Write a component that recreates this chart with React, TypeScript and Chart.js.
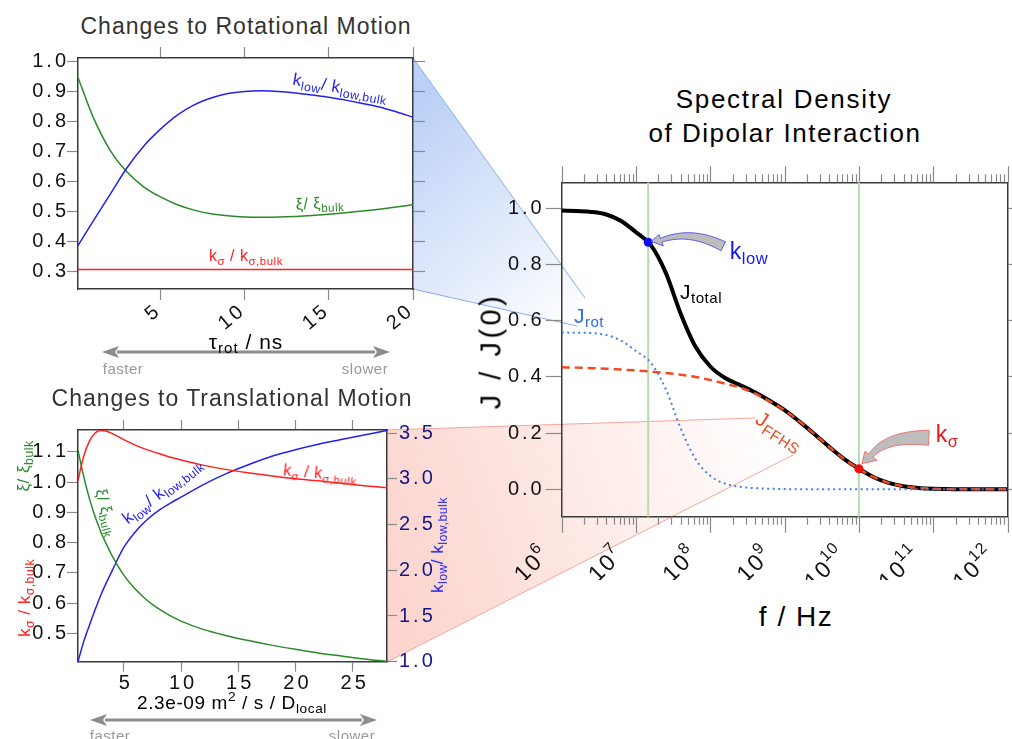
import React, { useEffect, useRef } from 'react';
import { Chart, registerables } from 'chart.js';

Chart.register(...registerables);

const FONT = "'Liberation Sans', Arial, Helvetica, sans-serif";
Chart.defaults.font.family = FONT;

// ---------------- Changes to Rotational Motion ----------------
const rotTau = [0.1, 1, 2, 3, 4, 5, 6, 7, 8, 9, 10, 11, 12, 13, 14, 15, 16, 17, 18, 19, 20];
const rotKlow = [0.385, 0.467, 0.556, 0.645, 0.718, 0.775, 0.822, 0.856, 0.879, 0.894, 0.901, 0.903, 0.901, 0.896, 0.889, 0.882, 0.872, 0.861, 0.849, 0.833, 0.815];
const rotXi = [0.948, 0.815, 0.705, 0.632, 0.582, 0.548, 0.522, 0.504, 0.492, 0.485, 0.481, 0.48, 0.481, 0.483, 0.486, 0.49, 0.495, 0.501, 0.507, 0.514, 0.522];
const rotKsigma = [0.305, 0.305, 0.305, 0.305, 0.305, 0.305, 0.305, 0.305, 0.305, 0.305, 0.305, 0.305, 0.305, 0.305, 0.305, 0.305, 0.305, 0.305, 0.305, 0.305, 0.305];
const rotXTicks = [5, 10, 15, 20];
const rotYTicks = [0.3, 0.4, 0.5, 0.6, 0.7, 0.8, 0.9, 1.0];

// ---------------- Changes to Translational Motion ----------------
const trX = [1, 1.5, 2, 2.5, 3, 3.5, 4, 5, 6, 7, 8, 9, 10, 12, 14, 16, 18, 20, 22, 24, 26, 28];
const trKsigma = [1.005, 1.085, 1.135, 1.162, 1.17, 1.168, 1.16, 1.14, 1.122, 1.107, 1.095, 1.083, 1.073, 1.055, 1.041, 1.03, 1.02, 1.011, 1.004, 0.996, 0.988, 0.981];
const trXi = [1.105, 1.018, 0.945, 0.885, 0.835, 0.793, 0.755, 0.692, 0.646, 0.61, 0.582, 0.559, 0.54, 0.512, 0.492, 0.475, 0.46, 0.447, 0.435, 0.425, 0.415, 0.407];
const trKlow = [1.0, 1.22, 1.4, 1.57, 1.73, 1.87, 2.0, 2.25, 2.42, 2.55, 2.65, 2.73, 2.8, 2.94, 3.06, 3.16, 3.25, 3.32, 3.38, 3.43, 3.48, 3.53];
const trXTicks = [5, 10, 15, 20, 25];
const trYTicks = [0.5, 0.6, 0.7, 0.8, 0.9, 1.0, 1.1];
const trY2Ticks = [1.0, 1.5, 2.0, 2.5, 3.0, 3.5];

// ---------------- Spectral density ----------------
const freqExp = [6.0, 6.2, 6.4, 6.6, 6.8, 7.0, 7.2, 7.4, 7.6, 7.8, 8.0, 8.2, 8.4, 8.6, 8.8, 9.0, 9.2, 9.4, 9.6, 9.8, 10.0, 10.2, 10.4, 10.6, 10.8, 11.0, 11.2, 11.4, 11.6, 11.8, 12.0];
const jRot = [0.558, 0.557, 0.556, 0.549, 0.529, 0.492, 0.45, 0.357, 0.218, 0.108, 0.048, 0.02, 0.009, 0.004, 0.002, 0.001, 0, 0, 0, 0, 0, 0, 0, 0, 0, 0, 0, 0, 0, 0, 0];
const jFfhs = [0.434, 0.433, 0.431, 0.429, 0.426, 0.423, 0.419, 0.414, 0.408, 0.4, 0.389, 0.376, 0.362, 0.341, 0.313, 0.281, 0.241, 0.197, 0.151, 0.108, 0.073, 0.043, 0.023, 0.011, 0.005, 0.002, 0.001, 0, 0, 0, 0];
const jTotal = [0.992, 0.99, 0.987, 0.978, 0.955, 0.915, 0.869, 0.771, 0.626, 0.508, 0.437, 0.396, 0.371, 0.345, 0.315, 0.282, 0.241, 0.197, 0.151, 0.108, 0.073, 0.043, 0.023, 0.011, 0.005, 0.002, 0.001, 0, 0, 0, 0];
const freqMajorExp = [6, 7, 8, 9, 10, 11, 12];
const jYTicks = [0.0, 0.2, 0.4, 0.6, 0.8, 1.0];
const kLowFreq = 1.46e7;
const kLowJ = 0.879;
const kSigmaFreq = 1e10;
const kSigmaJ = 0.073;

const pts = (xs: number[], ys: number[]) => xs.map((x, i) => ({ x, y: ys[i] }));
const f1 = (v: number) => v.toFixed(1);

// draws text character by character with tracking (works without ctx.letterSpacing)
function fillSpaced(ctx: any, text: string, x: number, y: number, align: string, sp: number) {
  const chars = Array.from(text);
  const widths = chars.map((c) => ctx.measureText(c).width);
  const total = widths.reduce((s, w) => s + w, 0) + sp * (chars.length - 1);
  let cx = align === 'right' ? x - total : align === 'center' ? x - total / 2 : x;
  const prev = ctx.textAlign;
  ctx.textAlign = 'left';
  chars.forEach((c, i) => {
    ctx.fillText(c, cx, y);
    cx += widths[i] + sp;
  });
  ctx.textAlign = prev;
  return total;
}

function axis(o: any) {
  const horizontal = o.position === 'top' || o.position === 'bottom';
  return {
    type: o.type || 'linear',
    position: o.position,
    min: o.min,
    max: o.max,
    afterBuildTicks: (s: any) => {
      s.ticks = o.ticks.map((v: number) => ({ value: v }));
    },
    afterFit: (s: any) => {
      if (horizontal) s.height = o.size;
      else s.width = o.size;
    },
    grid: {
      display: true,
      drawOnChartArea: false,
      drawTicks: o.tickLen > 0,
      tickLength: o.tickLen || 0,
      tickColor: '#8a8a8a',
      tickWidth: 1.2,
      color: '#8a8a8a',
    },
    border: { display: true, color: '#3a3a3a', width: 1.5 },
    ticks: { display: false },
  };
}

// Tick labels drawn at the scales' own pixel positions
const tickLabelPlugin = {
  id: 'tickLabels',
  afterDraw(chart: any, _args: any, opts: any) {
    const { ctx, chartArea: a } = chart;
    (opts.items || []).forEach((it: any) => {
      const sc = chart.scales[it.scale];
      const sp = it.ls ?? 3;
      ctx.save();
      ctx.font = `${it.size || 20}px ${FONT}`;
      ctx.fillStyle = it.color || '#111';
      ctx.textBaseline = 'middle';
      it.values.forEach((v: number) => {
        const p = sc.getPixelForValue(v);
        const text = it.fmt ? it.fmt(v) : String(v);
        if (it.side === 'left') {
          fillSpaced(ctx, text, a.left - it.offset, p, 'right', sp);
        } else if (it.side === 'right') {
          fillSpaced(ctx, text, a.right + it.offset, p, 'left', sp);
        } else if (it.rot) {
          ctx.save();
          ctx.translate(p + (it.dx || 0), a.bottom + it.offset);
          ctx.rotate((-it.rot * Math.PI) / 180);
          fillSpaced(ctx, text, 0, 0, 'right', sp);
          ctx.restore();
        } else {
          fillSpaced(ctx, text, p + (it.dx || 0), a.bottom + it.offset, 'center', sp);
        }
      });
      ctx.restore();
    });
  },
};

const baseOpts = (padding: any, labelItems: any[]) => ({
  animation: false,
  responsive: false,
  events: [],
  layout: { padding },
  plugins: { legend: { display: false }, tooltip: { enabled: false }, tickLabels: { items: labelItems } },
});

const line = (data: any, color: string, width = 1.5, extra: any = {}) => ({
  data,
  borderColor: color,
  backgroundColor: color,
  borderWidth: width,
  pointRadius: 0,
  cubicInterpolationMode: 'monotone',
  fill: false,
  ...extra,
});

function rotConfig(): any {
  return {
    type: 'line',
    data: {
      datasets: [
        line(pts(rotTau, rotKlow), '#2222ee'),
        line(pts(rotTau, rotXi), '#2a8a2a'),
        line(pts(rotTau, rotKsigma), '#ff2020'),
      ],
    },
    options: {
      ...baseOpts({ top: 18, right: 27, left: 0, bottom: 0 }, [
        { scale: 'y', side: 'left', values: rotYTicks, fmt: f1, offset: 12 },
        { scale: 'x', side: 'bottom', values: rotXTicks, rot: 40, offset: 21, dx: -4 },
      ]),
      scales: {
        x: axis({ position: 'bottom', min: 0.1, max: 20, ticks: rotXTicks, size: 51, tickLen: 11 }),
        xTop: axis({ position: 'top', min: 0.1, max: 20, ticks: rotXTicks, size: 0, tickLen: 11 }),
        y: axis({ position: 'left', min: 0.24, max: 1.013, ticks: rotYTicks, size: 78, tickLen: 11 }),
        yRight: axis({ position: 'right', min: 0.24, max: 1.013, ticks: rotYTicks, size: 0, tickLen: 12 }),
      },
    },
    plugins: [tickLabelPlugin],
  };
}

function transConfig(): any {
  return {
    type: 'line',
    data: {
      datasets: [
        line(pts(trX, trKsigma), '#ff2020', 1.5, { yAxisID: 'y' }),
        line(pts(trX, trXi), '#2a8a2a', 1.5, { yAxisID: 'y' }),
        line(pts(trX, trKlow), '#2222ee', 1.5, { yAxisID: 'y1' }),
      ],
    },
    options: {
      ...baseOpts({ top: 20, right: 0, left: 0, bottom: 0 }, [
        { scale: 'y', side: 'left', values: trYTicks, fmt: f1, offset: 12 },
        { scale: 'y1', side: 'right', values: trY2Ticks, fmt: f1, offset: 12, color: '#16168a' },
        { scale: 'x', side: 'bottom', values: trXTicks, offset: 22, dx: 0.5 },
      ]),
      scales: {
        x: axis({ position: 'bottom', min: 1, max: 28, ticks: trXTicks, size: 38.3, tickLen: 10 }),
        xTop: axis({ position: 'top', min: 1, max: 28, ticks: trXTicks, size: 0, tickLen: 10 }),
        y: axis({ position: 'left', min: 0.406, max: 1.172, ticks: trYTicks, size: 78, tickLen: 11 }),
        y1: axis({ position: 'right', min: 1.0, max: 3.535, ticks: trY2Ticks, size: 53, tickLen: 10 }),
      },
    },
    plugins: [tickLabelPlugin],
  };
}

function curvedArrow(ctx: any, P: any, g: any, stroke: string) {
  const tip = { x: P.x + g.tip[0], y: P.y + g.tip[1] };
  const H = { x: P.x + g.head[0], y: P.y + g.head[1] };
  const C = { x: P.x + g.ctrl[0], y: P.y + g.ctrl[1] };
  const S = { x: P.x + g.tail[0], y: P.y + g.tail[1] };
  const N = 24;
  const left: any[] = [];
  const right: any[] = [];
  for (let i = 0; i <= N; i++) {
    const t = i / N;
    const bx = (1 - t) * (1 - t) * H.x + 2 * (1 - t) * t * C.x + t * t * S.x;
    const by = (1 - t) * (1 - t) * H.y + 2 * (1 - t) * t * C.y + t * t * S.y;
    const dx = 2 * (1 - t) * (C.x - H.x) + 2 * t * (S.x - C.x);
    const dy = 2 * (1 - t) * (C.y - H.y) + 2 * t * (S.y - C.y);
    const l = Math.hypot(dx, dy) || 1;
    const nx = -dy / l;
    const ny = dx / l;
    const w = g.neck + (g.tailW - g.neck) * t;
    left.push({ x: bx + (nx * w) / 2, y: by + (ny * w) / 2 });
    right.push({ x: bx - (nx * w) / 2, y: by - (ny * w) / 2 });
  }
  const d0x = C.x - H.x;
  const d0y = C.y - H.y;
  const l0 = Math.hypot(d0x, d0y) || 1;
  const n0x = -d0y / l0;
  const n0y = d0x / l0;
  ctx.save();
  ctx.beginPath();
  ctx.moveTo(tip.x, tip.y);
  ctx.lineTo(H.x + (n0x * g.headW) / 2, H.y + (n0y * g.headW) / 2);
  left.forEach((p) => ctx.lineTo(p.x, p.y));
  for (let i = right.length - 1; i >= 0; i--) ctx.lineTo(right[i].x, right[i].y);
  ctx.lineTo(H.x - (n0x * g.headW) / 2, H.y - (n0y * g.headW) / 2);
  ctx.closePath();
  ctx.fillStyle = '#bdbdbd';
  ctx.fill();
  ctx.strokeStyle = stroke;
  ctx.lineWidth = 1;
  ctx.stroke();
  ctx.restore();
}

const markerPlugin = {
  id: 'markers',
  beforeDatasetsDraw(chart: any) {
    const { ctx, chartArea: a } = chart;
    const xs = chart.scales.x;
    ctx.save();
    ctx.strokeStyle = '#b7dbb0';
    ctx.lineWidth = 2;
    [kLowFreq, kSigmaFreq].forEach((f) => {
      const px = xs.getPixelForValue(f);
      ctx.beginPath();
      ctx.moveTo(px, a.top);
      ctx.lineTo(px, a.bottom);
      ctx.stroke();
    });
    ctx.restore();
  },
  afterDatasetsDraw(chart: any) {
    const { ctx } = chart;
    const xs = chart.scales.x;
    const ys = chart.scales.y;
    const pLow = { x: xs.getPixelForValue(kLowFreq), y: ys.getPixelForValue(kLowJ) };
    const pSig = { x: xs.getPixelForValue(kSigmaFreq), y: ys.getPixelForValue(kSigmaJ) };
    curvedArrow(ctx, pLow, { tip: [3, -1], head: [13, -2], ctrl: [42, -13], tail: [75, 4], headW: 12, neck: 4, tailW: 10 }, '#5a5af0');
    curvedArrow(ctx, pSig, { tip: [3, -5], head: [12, -13], ctrl: [27, -33], tail: [70, -31], headW: 15, neck: 5, tailW: 15 }, '#f07070');
  },
};

const logAxisPlugin = {
  id: 'logAxis',
  afterDraw(chart: any) {
    const { ctx, chartArea: a } = chart;
    const xs = chart.scales.x;
    ctx.save();
    ctx.strokeStyle = '#8a8a8a';
    ctx.lineWidth = 1.2;
    const first = freqMajorExp[0];
    const last = freqMajorExp[freqMajorExp.length - 1];
    for (let e = first; e <= last; e++) {
      for (let m = 1; m <= 9; m++) {
        if (e === last && m > 1) break;
        const px = Math.round(xs.getPixelForValue(m * Math.pow(10, e))) + 0.5;
        const len = m === 1 ? 16 : 8;
        ctx.beginPath();
        ctx.moveTo(px, a.bottom);
        ctx.lineTo(px, a.bottom + len);
        ctx.moveTo(px, a.top);
        ctx.lineTo(px, a.top - len);
        ctx.stroke();
      }
    }
    ctx.fillStyle = '#111';
    ctx.textBaseline = 'alphabetic';
    freqMajorExp.forEach((e) => {
      const px = xs.getPixelForValue(Math.pow(10, e));
      ctx.save();
      ctx.translate(px - 12, a.bottom + 40);
      ctx.rotate(-Math.PI / 4);
      ctx.font = `16px ${FONT}`;
      const ew = fillSpaced(ctx, String(e), 0, -11, 'right', 1);
      ctx.font = `23px ${FONT}`;
      fillSpaced(ctx, '10', -ew - 1, 0, 'right', 2);
      ctx.restore();
    });
    ctx.restore();
  },
};

function spectralConfig(): any {
  const fx = freqExp.map((e) => Math.pow(10, e));
  return {
    type: 'line',
    data: {
      datasets: [
        { data: [{ x: kLowFreq, y: kLowJ }], showLine: false, pointRadius: 4.5, pointBackgroundColor: '#1010ee', pointBorderWidth: 0 },
        { data: [{ x: kSigmaFreq, y: kSigmaJ }], showLine: false, pointRadius: 4.5, pointBackgroundColor: '#ee1010', pointBorderWidth: 0 },
        line(pts(fx, jRot), '#3f82ee', 2, { borderDash: [2, 3.5] }),
        line(pts(fx, jFfhs), '#f04a22', 2.5, { borderDash: [8, 5] }),
        line(pts(fx, jTotal), '#000000', 4),
      ],
    },
    options: {
      ...baseOpts({ top: 22.3, right: 3.7, left: 0, bottom: 0 }, [
        { scale: 'y', side: 'left', values: jYTicks, fmt: f1, offset: 20 },
      ]),
      scales: {
        x: axis({ type: 'logarithmic', position: 'bottom', min: 1e6, max: 1e12, ticks: freqMajorExp.map((e) => Math.pow(10, e)), size: 63.3, tickLen: 0 }),
        xTop: axis({ type: 'logarithmic', position: 'top', min: 1e6, max: 1e12, ticks: freqMajorExp.map((e) => Math.pow(10, e)), size: 0, tickLen: 0 }),
        y: axis({ position: 'left', min: -0.0975, max: 1.0925, ticks: jYTicks, size: 81.7, tickLen: 16 }),
        yRight: axis({ position: 'right', min: -0.0975, max: 1.0925, ticks: jYTicks, size: 0, tickLen: 10 }),
      },
    },
    plugins: [markerPlugin, logAxisPlugin, tickLabelPlugin],
  };
}

const Sub = ({ children }: any) => <span style={{ fontSize: '0.72em', verticalAlign: '-0.32em' }}>{children}</span>;
const Sup = ({ children }: any) => <span style={{ fontSize: '0.72em', verticalAlign: '0.55em' }}>{children}</span>;

function T({ x, y, size, color = '#000', rot = 0, ls = 0.5, children }: any) {
  return (
    <div
      style={{
        position: 'absolute',
        left: x,
        top: y,
        transform: `translate(-50%, -50%) rotate(${rot}deg)`,
        fontSize: size,
        color,
        whiteSpace: 'nowrap',
        lineHeight: 1,
        letterSpacing: ls,
        fontFamily: FONT,
      }}
    >
      {children}
    </div>
  );
}

function DoubleArrow({ x1, x2, y }: any) {
  const hl = 17;
  const hw = 6;
  return (
    <g>
      <line x1={x1 + hl - 2} y1={y} x2={x2 - hl + 2} y2={y} stroke="#8c8c8c" strokeWidth={3} />
      <polygon points={`${x1},${y} ${x1 + hl},${y - hw} ${x1 + hl - 4},${y} ${x1 + hl},${y + hw}`} fill="#8c8c8c" />
      <polygon points={`${x2},${y} ${x2 - hl},${y - hw} ${x2 - hl + 4},${y} ${x2 - hl},${y + hw}`} fill="#8c8c8c" />
    </g>
  );
}

export default function App() {
  const aRef = useRef<HTMLCanvasElement>(null);
  const bRef = useRef<HTMLCanvasElement>(null);
  const cRef = useRef<HTMLCanvasElement>(null);

  useEffect(() => {
    const charts = [
      new Chart(aRef.current as HTMLCanvasElement, rotConfig()),
      new Chart(bRef.current as HTMLCanvasElement, transConfig()),
      new Chart(cRef.current as HTMLCanvasElement, spectralConfig()),
    ];
    return () => charts.forEach((c) => c.destroy());
  }, []);

  const blue = '#2222ee';
  const green = '#2a8a2a';
  const red = '#ff2020';

  return (
    <div style={{ position: 'absolute', left: 0, top: 0, width: 1012, height: 739, background: '#fff', overflow: 'hidden', fontFamily: FONT }}>
      <svg width={1012} height={739} style={{ position: 'absolute', left: 0, top: 0 }}>
        <defs>
          <linearGradient id="gBlue" gradientUnits="userSpaceOnUse" x1="413" y1="110" x2="585" y2="320">
            <stop offset="0" stopColor="#bcd1f6" />
            <stop offset="1" stopColor="#ffffff" />
          </linearGradient>
          <linearGradient id="gRed" gradientUnits="userSpaceOnUse" x1="387" y1="560" x2="780" y2="430">
            <stop offset="0" stopColor="#fcd5ce" />
            <stop offset="1" stopColor="#ffffff" />
          </linearGradient>
        </defs>
        <polygon points="413,58 585,298 577,326 413,289" fill="url(#gBlue)" />
        <line x1={413} y1={58} x2={585} y2={298} stroke="#86acee" strokeWidth={1} />
        <line x1={413} y1={289} x2={577} y2={326} stroke="#86acee" strokeWidth={1} />
        <polygon points="387,430 755,418 793,455 387,662" fill="url(#gRed)" />
        <line x1={387} y1={430} x2={755} y2={418} stroke="#f5a59b" strokeWidth={1} />
        <line x1={387} y1={662} x2={793} y2={455} stroke="#f5a59b" strokeWidth={1} />
        <DoubleArrow x1={102} x2={390} y={352} />
        <DoubleArrow x1={90} x2={377} y={720} />
      </svg>

      <canvas ref={aRef} width={440} height={300} style={{ position: 'absolute', left: 0, top: 40, width: 440, height: 300 }} />
      <canvas ref={bRef} width={440} height={290} style={{ position: 'absolute', left: 0, top: 410, width: 440, height: 290 }} />
      <canvas ref={cRef} width={532} height={420} style={{ position: 'absolute', left: 480, top: 160, width: 532, height: 420 }} />

      {/* Rotational panel */}
      <T x={246} y={26} size={23} color="#333" ls={1}>Changes to Rotational Motion</T>
      <T x={246} y={343} size={21} ls={1}>τ<Sub>rot</Sub> / ns</T>
      <T x={123} y={368} size={15} color="#999">faster</T>
      <T x={365} y={368} size={15} color="#999">slower</T>
      <T x={340} y={89} size={17} color={blue} rot={10}>k<Sub>low</Sub>/ k<Sub>low,bulk</Sub></T>
      <T x={320} y={205} size={16} color={green} rot={-3}>ξ/ ξ<Sub>bulk</Sub></T>
      <T x={246} y={258} size={16} color={red}>k<Sub>σ</Sub> / k<Sub>σ,bulk</Sub></T>

      {/* Translational panel */}
      <T x={232} y={398} size={23} color="#333" ls={1}>Changes to Translational Motion</T>
      <T x={232} y={703} size={19} ls={0.6}>2.3e-09 m<Sup>2</Sup> / s / D<Sub>local</Sub></T>
      <T x={110} y={735} size={15} color="#999">faster</T>
      <T x={352} y={735} size={15} color="#999">slower</T>
      <T x={25} y={466} size={17} color={green} rot={-90}>ξ/ ξ<Sub>bulk</Sub></T>
      <T x={26} y={598} size={17} color={red} rot={-90}>k<Sub>σ</Sub> / k<Sub>σ,bulk</Sub></T>
      <T x={439} y={545} size={17} color={blue} rot={-90}>k<Sub>low</Sub>/ k<Sub>low,bulk</Sub></T>
      <T x={105} y={513} size={16} color={green} rot={75}>ξ/ ξ<Sub>bulk</Sub></T>
      <T x={163} y={492} size={17} color={blue} rot={-38}>k<Sub>low</Sub>/ k<Sub>low,bulk</Sub></T>
      <T x={320} y={475} size={16} color={red} rot={5}>k<Sub>σ</Sub> / k<Sub>σ,bulk</Sub></T>

      {/* Spectral density panel */}
      <T x={784} y={99} size={26} ls={1.7}>Spectral Density</T>
      <T x={785} y={133} size={26} ls={1.5}>of Dipolar Interaction</T>
      <T x={491} y={351} size={29} rot={-90} ls={3.5}>J / J(0)</T>
      <T x={796} y={617} size={28} ls={1.5}>f / Hz</T>
      <T x={749} y={254} size={23} color="#1515ee">k<Sub>low</Sub></T>
      <T x={701} y={293} size={21}>J<Sub>total</Sub></T>
      <T x={589} y={317} size={21} color="#2a6de8">J<Sub>rot</Sub></T>
      <T x={779} y={432} size={21} color="#f04a22" rot={33}>J<Sub>FFHS</Sub></T>
      <T x={947} y={437} size={23} color="#ee1515">k<Sub>σ</Sub></T>
    </div>
  );
}
